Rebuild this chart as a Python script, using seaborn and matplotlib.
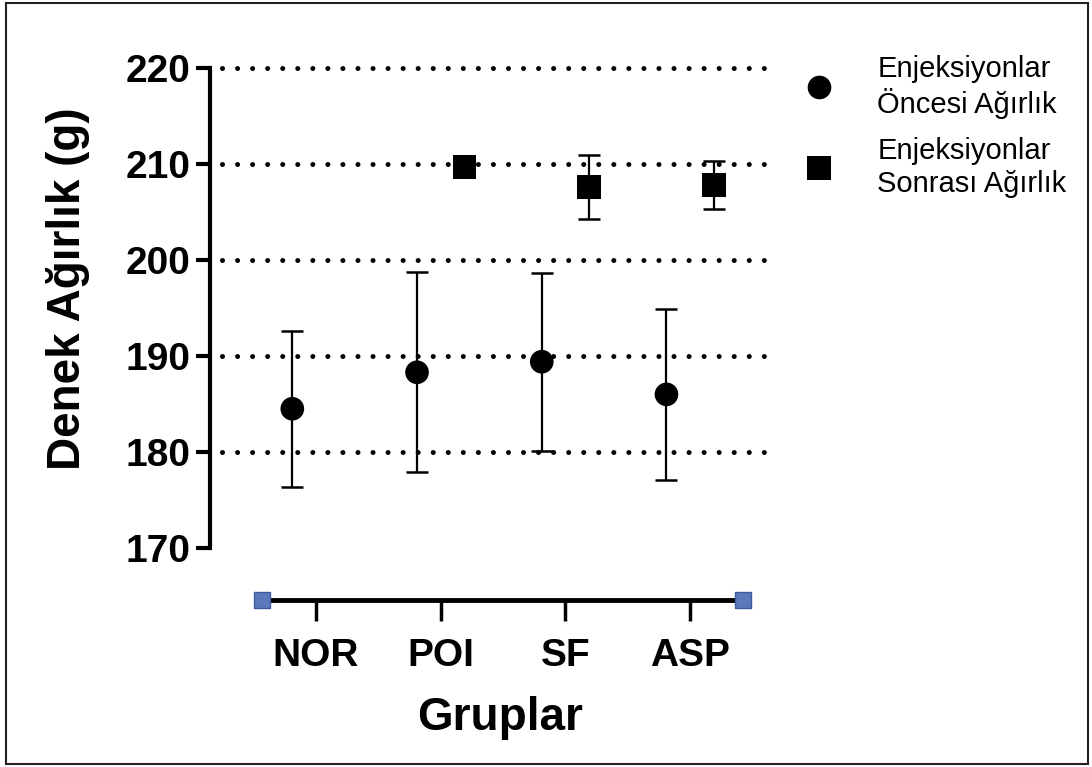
import numpy as np
import pandas as pd
import matplotlib
matplotlib.use("Agg")
import matplotlib.pyplot as plt
import seaborn as sns
from matplotlib.patches import Rectangle

groups = ["NOR", "POI", "SF", "ASP"]
before_mean = [184.5, 188.3, 189.4, 186.0]
before_err = [8.1, 10.4, 9.25, 8.9]
# NOR has no post-injection value in the chart
after_mean = [np.nan, 209.7, 207.6, 207.8]
after_err = [np.nan, 0.3, 3.3, 2.5]
series = ["Enjeksiyonlar\nÖncesi Ağırlık", "Enjeksiyonlar\nSonrası Ağırlık"]

sns.set_style("white", {"axes.edgecolor": "black", "text.color": "black",
                        "xtick.color": "black", "ytick.color": "black",
                        "axes.labelcolor": "black"})
plt.rcParams["font.family"] = ["Liberation Sans", "DejaVu Sans"]

rows = []
for i, g in enumerate(groups):
    rows.append({"grup": g, "pos": i - 0.19, "seri": series[0], "agirlik": before_mean[i], "hata": before_err[i]})
    rows.append({"grup": g, "pos": i + 0.19, "seri": series[1], "agirlik": after_mean[i], "hata": after_err[i]})
df = pd.DataFrame(rows).dropna()

fig = plt.figure(figsize=(10.92, 7.67), dpi=100)
ax = fig.add_axes([210 / 1092, 1 - 600 / 767, 560 / 1092, 540 / 767])

# dotted grid
for yv in [180, 190, 200, 210, 220]:
    ax.hlines(yv, -0.754, 3.625, colors="black", linewidth=3.6,
              linestyles=(0, (0.01, 3.0)), zorder=1)
for ln in ax.collections:
    ln.set_capstyle("round")

ax.errorbar(df["pos"], df["agirlik"], yerr=df["hata"], fmt="none",
            ecolor="black", elinewidth=1.6, capsize=8, capthick=1.8, zorder=2)

sns.scatterplot(data=df, x="pos", y="agirlik", style="seri",
                markers={series[0]: "o", series[1]: "s"}, color="black",
                edgecolor="black", linewidth=0, s=290, ax=ax, zorder=3)

ax.set_xlim(-0.85, 3.64)
ax.set_ylim(164.58, 220.83)
ax.set_yticks([170, 180, 190, 200, 210, 220])
ax.set_xticks(range(len(groups)))
ax.set_xticklabels(groups)

for s in ["top", "right"]:
    ax.spines[s].set_visible(False)
ax.spines["left"].set_bounds(170, 220)
ax.spines["left"].set_linewidth(3)
ax.spines["bottom"].set_bounds(-0.43, 3.42)
ax.spines["bottom"].set_linewidth(3.5)
ax.tick_params(axis="y", direction="out", length=10, width=3, pad=4,
               labelsize=28, left=True)
ax.tick_params(axis="x", direction="out", length=15, width=2.5, pad=12,
               labelsize=28, bottom=True)
for lab in ax.get_xticklabels() + ax.get_yticklabels():
    lab.set_fontweight("bold")

# selection handles at the ends of the x axis
ax.plot([-0.43, 3.42], [164.58, 164.58], "s", ms=11, mfc="#5b79ba",
        mec="#3d5a9a", mew=1, clip_on=False, zorder=6)

ax.set_xlabel("Gruplar", fontsize=33, fontweight="bold", va="center")
ax.xaxis.set_label_coords((500 - 210) / 560, (600 - 718) / 540)
ax.set_ylabel("Denek Ağırlık (g)", fontsize=33, fontweight="bold", va="center")
ax.yaxis.set_label_coords((68 - 210) / 560, (600 - 289) / 540)

handles, labels = ax.get_legend_handles_labels()
ax.legend(handles, labels, loc="upper left", bbox_to_anchor=(784 / 1092, 1 - 40 / 767),
          bbox_transform=fig.transFigure, frameon=False, fontsize=21,
          handlelength=1.4, handletextpad=1.3, labelspacing=0.64, borderpad=0)

fig.patches.append(Rectangle((6 / 1092, 3 / 767), 1082 / 1092, 761 / 767,
                             transform=fig.transFigure, fill=False,
                             edgecolor="#222222", linewidth=1.5))

fig.savefig("out.png", dpi=100)
